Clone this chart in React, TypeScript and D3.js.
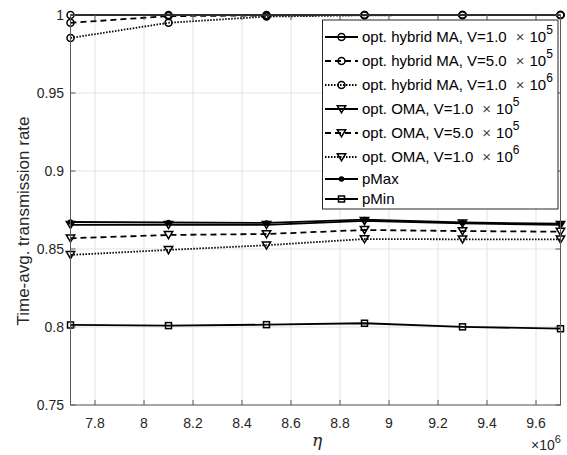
import React from "react";
import * as d3 from "d3";

const etaValues = [7.7e6, 8.1e6, 8.5e6, 8.9e6, 9.3e6, 9.7e6];
const hybridV1e5 = [1.0, 1.0, 1.0, 1.0, 1.0, 1.0];
const hybridV5e5 = [0.995, 0.9993, 0.9997, 1.0, 1.0, 1.0];
const hybridV1e6 = [0.9853, 0.995, 0.999, 0.9998, 1.0, 1.0];
const omaV1e5 = [0.8655, 0.8655, 0.8655, 0.868, 0.8665, 0.8655];
const omaV5e5 = [0.8569, 0.859, 0.8596, 0.8622, 0.8615, 0.8611];
const omaV1e6 = [0.8462, 0.8494, 0.8524, 0.8564, 0.8562, 0.8562];
const pMax = [0.8673, 0.867, 0.8667, 0.8688, 0.867, 0.8662];
const pMin = [0.8013, 0.8009, 0.8015, 0.8024, 0.8001, 0.7989];

const xTicks = [7.8, 8, 8.2, 8.4, 8.6, 8.8, 9, 9.2, 9.4, 9.6];
const yTicks = [0.75, 0.8, 0.85, 0.9, 0.95, 1];

type Marker = "circle" | "tri" | "dot" | "square";
interface Series {
  name: string;
  exp: string;
  values: number[];
  dash: string;
  marker: Marker;
}

const series: Series[] = [
  { name: "opt. hybrid MA, V=1.0", exp: "5", values: hybridV1e5, dash: "", marker: "circle" },
  { name: "opt. hybrid MA, V=5.0", exp: "5", values: hybridV5e5, dash: "6,4", marker: "circle" },
  { name: "opt. hybrid MA, V=1.0", exp: "6", values: hybridV1e6, dash: "1.5,1.5", marker: "circle" },
  { name: "opt. OMA, V=1.0", exp: "5", values: omaV1e5, dash: "", marker: "tri" },
  { name: "opt. OMA, V=5.0", exp: "5", values: omaV5e5, dash: "6,4", marker: "tri" },
  { name: "opt. OMA, V=1.0", exp: "6", values: omaV1e6, dash: "1.5,1.5", marker: "tri" },
  { name: "pMax", exp: "", values: pMax, dash: "", marker: "dot" },
  { name: "pMin", exp: "", values: pMin, dash: "", marker: "square" },
];

const W = 567;
const H = 455;
const left = 70.5;
const right = 560.5;
const top = 15;
const bottom = 405;
const FONT = "'Liberation Sans', Arial, Helvetica, sans-serif";

function MarkerShape({ type, cx, cy }: { type: Marker; cx: number; cy: number }) {
  const sw = 1.5;
  if (type === "circle")
    return <circle cx={cx} cy={cy} r={3.5} fill="none" stroke="#000" strokeWidth={sw} />;
  if (type === "dot") return <circle cx={cx} cy={cy} r={2.8} fill="#000" />;
  if (type === "square")
    return <rect x={cx - 3} y={cy - 3} width={6} height={6} fill="none" stroke="#000" strokeWidth={sw} />;
  const s = 4.2;
  return (
    <path
      d={`M${cx - s},${cy - s * 0.8}L${cx + s},${cy - s * 0.8}L${cx},${cy + s * 0.9}Z`}
      fill="none"
      stroke="#000"
      strokeWidth={sw}
    />
  );
}

export default function App() {
  const x = d3.scaleLinear().domain([7.7, 9.7]).range([left, right]);
  const y = d3.scaleLinear().domain([0.75, 1]).range([bottom, top]);
  const line = d3
    .line<number>()
    .x((_, i) => x(etaValues[i] / 1e6))
    .y((d) => y(d));

  const legX = 322.5;
  const legY = 20;
  const legW = 235.5;
  const legH = 189;
  const rowY = [37, 61, 85, 109, 133, 157, 179, 199];

  return (
    <svg
      width={W}
      height={H}
      style={{ position: "absolute", left: 0, top: 0, background: "#fff" }}
      fontFamily={FONT}
    >
      <rect x={0} y={0} width={W} height={H} fill="#fff" />
      {xTicks.map((t) => (
        <line key={"gx" + t} x1={x(t)} x2={x(t)} y1={top} y2={bottom} stroke="#e3e3e3" strokeWidth={1} />
      ))}
      {yTicks.map((t) => (
        <line key={"gy" + t} x1={left} x2={right} y1={y(t)} y2={y(t)} stroke="#e3e3e3" strokeWidth={1} />
      ))}
      {series.map((s, k) => (
        <g key={"s" + k}>
          <path d={line(s.values) || ""} fill="none" stroke="#000" strokeWidth={1.8} strokeDasharray={s.dash || undefined} />
          {s.values.map((v, i) => (
            <MarkerShape key={i} type={s.marker} cx={x(etaValues[i] / 1e6)} cy={y(v)} />
          ))}
        </g>
      ))}
      <rect x={left} y={top} width={right - left} height={bottom - top} fill="none" stroke="#5a5a5a" strokeWidth={1} />
      {xTicks.map((t) => (
        <g key={"xt" + t}>
          <line x1={x(t)} x2={x(t)} y1={bottom} y2={bottom - 5} stroke="#5a5a5a" />
          <line x1={x(t)} x2={x(t)} y1={top} y2={top + 5} stroke="#5a5a5a" />
          <text x={x(t)} y={428} textAnchor="middle" fontSize={14} fill="#262626">
            {t}
          </text>
        </g>
      ))}
      {yTicks.map((t) => (
        <g key={"yt" + t}>
          <line x1={left} x2={left + 5} y1={y(t)} y2={y(t)} stroke="#5a5a5a" />
          <line x1={right} x2={right - 5} y1={y(t)} y2={y(t)} stroke="#5a5a5a" />
          <text x={64} y={y(t) + 5} textAnchor="end" fontSize={14} fill="#262626">
            {t}
          </text>
        </g>
      ))}
      <text
        transform={`translate(29,${(top + bottom) / 2 + 11}) rotate(-90)`}
        textAnchor="middle"
        fontSize={17}
        fill="#262626"
      >
        Time-avg. transmission rate
      </text>
      <text x={317} y={446} textAnchor="middle" fontSize={17} fontStyle="italic" fontFamily="'DejaVu Serif', serif" fill="#262626">
        η
      </text>
      <text x={531} y={450} fontSize={14} fill="#262626">
        ×10<tspan dy={-7} fontSize={11}>6</tspan>
      </text>
      <rect x={legX} y={legY} width={legW} height={legH} fill="#fff" stroke="#262626" strokeWidth={1} />
      {series.map((s, k) => (
        <g key={"l" + k}>
          <line x1={325} x2={358} y1={rowY[k]} y2={rowY[k]} stroke="#000" strokeWidth={1.8} strokeDasharray={s.dash || undefined} />
          <MarkerShape type={s.marker} cx={341.5} cy={rowY[k]} />
          <text x={362} y={rowY[k] + 5} fontSize={15} fill="#000">
            {s.name}
            {s.exp && (
              <>
                <tspan dx={9} fill="#444">×</tspan>
                <tspan dx={5}>10</tspan>
                <tspan dy={-8} fontSize={12}>{s.exp}</tspan>
              </>
            )}
          </text>
        </g>
      ))}
    </svg>
  );
}
